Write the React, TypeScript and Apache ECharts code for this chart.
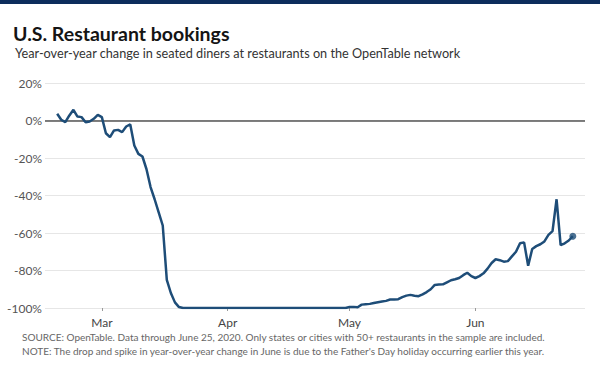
import React, { useEffect, useRef } from "react";
import * as echarts from "echarts";

// Year-over-year change (%) in seated diners, daily, Feb 19 – Jun 25, 2020
const febDays = [19, 20, 21, 22, 23, 24, 25, 26, 27, 28, 29];
const febValues = [3.6, 0.4, -0.9, 2.7, 5.7, 2.1, 1.8, -0.9, -0.5, 0.9, 3.0];
const marValues = [
  1.8, -6.8, -8.9, -5.3, -5.0, -6.2, -3.2, -2.1, -13.3, -17.8, -19.2, -26, -35.5, -42, -49, -56,
  -85, -92, -97, -99.5, -100, -100, -100, -100, -100, -100, -100, -100, -100, -100, -100,
];
const aprValues = [
  -100, -100, -100, -100, -100, -100, -100, -100, -100, -100, -100, -100, -100, -100, -100,
  -100, -100, -100, -100, -100, -100, -100, -100, -100, -100, -100, -100, -100, -100, -100,
];
const mayValues = [
  -99.5, -99.4, -99.6, -98.2, -98, -97.8, -97.3, -96.9, -96.5, -96.2, -95.5, -95.5, -95.3, -94.2,
  -93.4, -93, -93.5, -93.7, -92.7, -91.5, -90, -87.7, -87.5, -87.4, -86.3, -85.2, -84.7, -84,
  -82.5, -81.2, -83,
];
const junValues = [
  -84, -83, -81.5, -79, -76, -74, -74.5, -75.3, -75, -72.5, -70, -65.5, -65, -77.5, -68.5, -67,
  -66, -64.5, -61, -59, -42, -66.5, -65.5, -64, -61.7,
];
const monthLabels = ["Jan", "Feb", "Mar", "Apr", "May", "Jun", "Jul"];
const yTicks = [20, 0, -20, -40, -60, -80, -100];

const titleText = "U.S. Restaurant bookings";
const subtitleText = "Year-over-year change in seated diners at restaurants on the OpenTable network";
const sourceText =
  "SOURCE: OpenTable. Data through June 25, 2020. Only states or cities with 50+ restaurants in the sample are included.";
const noteText =
  "NOTE: The drop and spike in year-over-year change in June is due to the Father's Day holiday occurring earlier this year.";

function buildSeries(): [number, number][] {
  const out: [number, number][] = [];
  febDays.forEach((d, i) => out.push([new Date(2020, 1, d).getTime(), febValues[i]]));
  marValues.forEach((v, i) => out.push([new Date(2020, 2, i + 1).getTime(), v]));
  aprValues.forEach((v, i) => out.push([new Date(2020, 3, i + 1).getTime(), v]));
  mayValues.forEach((v, i) => out.push([new Date(2020, 4, i + 1).getTime(), v]));
  junValues.forEach((v, i) => out.push([new Date(2020, 5, i + 1).getTime(), v]));
  return out;
}

export default function App() {
  const ref = useRef<HTMLDivElement>(null);
  useEffect(() => {
    if (!ref.current) return;
    const chart = echarts.init(ref.current, null, { renderer: "svg" });
    const data = buildSeries();
    const last = data[data.length - 1];
    const font = "Lato, 'Open Sans', sans-serif";
    const DAY = 86400000;
    chart.setOption({
      animation: false,
      backgroundColor: "#ffffff",
      textStyle: { fontFamily: font },
      title: [
        {
          text: titleText,
          left: 8,
          top: 17,
          textStyle: { fontSize: 19.5, fontWeight: "bold", color: "#141414", fontFamily: font, lineHeight: 22 },
        },
        {
          text: subtitleText,
          left: 10,
          top: 40,
          textStyle: { fontSize: 12.7, fontWeight: "normal", color: "#333333", fontFamily: font, lineHeight: 15 },
        },
      ],
      graphic: [
        { type: "rect", left: 0, top: 0, shape: { width: 600, height: 4 }, style: { fill: "#0d2d5c" } },
        {
          type: "text",
          left: 22,
          top: 332,
          style: { text: sourceText, fontSize: 10, fill: "#666666", fontFamily: font },
        },
        {
          type: "text",
          left: 22,
          top: 346,
          style: { text: noteText, fontSize: 10, fill: "#666666", fontFamily: font },
        },
      ],
      grid: { left: 45, right: 15, top: 83, bottom: 57, containLabel: false },
      xAxis: {
        type: "time",
        min: new Date(2020, 1, 16).getTime(),
        max: new Date(2020, 5, 28).getTime(),
        minInterval: 28 * DAY,
        maxInterval: 31 * DAY,
        axisLine: { show: false, onZero: false },
        axisTick: { show: true, length: 3, lineStyle: { color: "#999999" } },
        splitLine: { show: false },
        axisLabel: {
          color: "#444444",
          fontSize: 12,
          fontFamily: font,
          margin: 8,
          showMinLabel: false,
          showMaxLabel: false,
          formatter: (val: number) => {
            const d = new Date(val);
            return d.getDate() === 1 ? monthLabels[d.getMonth()] : "";
          },
        },
      },
      yAxis: {
        type: "value",
        min: yTicks[yTicks.length - 1],
        max: yTicks[0],
        interval: 20,
        axisLine: { show: false },
        axisTick: { show: false },
        splitLine: { lineStyle: { color: "#e6e6e6", width: 1 } },
        axisLabel: {
          color: "#555555",
          fontSize: 12,
          fontFamily: font,
          margin: 3,
          formatter: (v: number) => `${v}%`,
        },
      },
      series: [
        {
          type: "line",
          data,
          showSymbol: false,
          symbol: "none",
          lineStyle: { color: "#1e4d78", width: 2.5 },
          z: 3,
          markLine: {
            silent: true,
            symbol: "none",
            label: { show: false },
            lineStyle: { color: "#555555", width: 1.5, type: "solid" },
            data: [{ yAxis: 0 }],
            z: 2,
          },
        },
        {
          type: "scatter",
          data: [last],
          symbol: "circle",
          symbolSize: 7,
          itemStyle: { color: "#1e4d78" },
          z: 4,
        },
      ],
    });
    return () => chart.dispose();
  }, []);
  return (
    <div
      ref={ref}
      style={{ position: "absolute", left: 0, top: 0, width: 600, height: 365 }}
    />
  );
}
